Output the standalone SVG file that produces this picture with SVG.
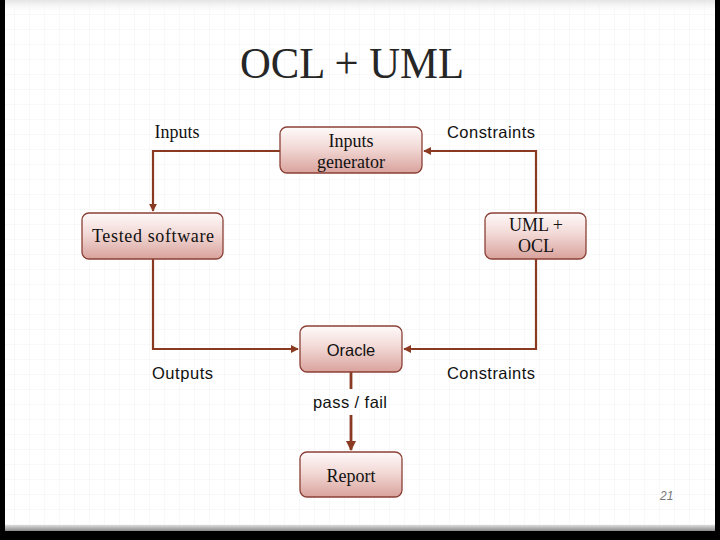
<svg xmlns="http://www.w3.org/2000/svg" width="720" height="540" viewBox="0 0 720 540">
<style>
.node rect{fill:url(#ng);stroke:#8a4036;stroke-width:1.3}
.serif{font-family:"Liberation Serif","DejaVu Serif",serif;font-size:18px;fill:#111;text-anchor:middle}
.sans{font-family:"Liberation Sans","DejaVu Sans",sans-serif;font-size:16.5px;fill:#111}
.conn path{fill:none;stroke:#8b3a22;stroke-width:2.2}
</style>
<defs>
<linearGradient id="ng" x1="0" y1="0" x2="0" y2="1">
<stop offset="0" stop-color="#fefafa"/>
<stop offset="0.45" stop-color="#f2d9d6"/>
<stop offset="1" stop-color="#d9a29c"/>
</linearGradient>
<linearGradient id="topfade" x1="0" y1="0" x2="0" y2="1">
<stop offset="0" stop-color="#e4e4e4"/>
<stop offset="1" stop-color="#ffffff" stop-opacity="0"/>
</linearGradient>
<linearGradient id="botfade" x1="0" y1="0" x2="0" y2="1">
<stop offset="0" stop-color="#dcdcdc"/>
<stop offset="1" stop-color="#8a8a8a"/>
</linearGradient>
<pattern id="grid" width="15" height="15" patternUnits="userSpaceOnUse">
<path d="M15 0V15M0 15H15" fill="none" stroke="#f1f1f1" stroke-width="1"/>
</pattern>
<marker id="ah" viewBox="0 0 10 10" refX="9" refY="5" markerWidth="3.6" markerHeight="3.6" orient="auto" markerUnits="strokeWidth">
<path d="M0 0L10 5L0 10z" fill="#8b3a22"/>
</marker>
</defs>
<rect width="720" height="540" fill="#000"/>
<rect x="5" y="0" width="710" height="526" fill="#fff"/>
<rect x="5" y="0" width="710" height="526" fill="url(#grid)"/>
<rect x="5" y="0" width="710" height="14" fill="url(#topfade)"/>
<rect x="5" y="525" width="710" height="6" fill="url(#botfade)"/>
<text x="352" y="78" font-family="'Liberation Serif','DejaVu Serif',serif" font-size="44" fill="#262626" text-anchor="middle" textLength="224" lengthAdjust="spacingAndGlyphs">OCL + UML</text>
<g class="conn">
<path d="M280 151H153V211" marker-end="url(#ah)"/>
<path d="M536 213V151H424" marker-end="url(#ah)"/>
<path d="M153 259V349H298" marker-end="url(#ah)"/>
<path d="M536 259V349H404" marker-end="url(#ah)"/>
<path d="M351 372V389" style="stroke-width:2.8"/>
<path d="M351 415V450" style="stroke-width:2.8" marker-end="url(#ah)"/>
</g>
<g id="inputs-generator" class="node"><rect x="280" y="127" width="142" height="46" rx="7"/><text class="serif" x="351" y="147">Inputs</text><text class="serif" x="351" y="168">generator</text></g>
<g id="tested-software" class="node"><rect x="82" y="213" width="141" height="46" rx="7"/><text class="serif" x="153" y="242" textLength="122">Tested software</text></g>
<g id="uml-ocl" class="node"><rect x="485" y="213" width="101" height="46" rx="7"/><text class="serif" x="536" y="231">UML +</text><text class="serif" x="536" y="252">OCL</text></g>
<g id="oracle" class="node"><rect x="300" y="326" width="102" height="46" rx="7"/><text class="sans" x="351" y="356" text-anchor="middle">Oracle</text></g>
<g id="report" class="node"><rect x="300" y="452" width="102" height="45" rx="7"/><text class="serif" x="351" y="482">Report</text></g>
<g id="labels">
<text class="serif" x="177" y="138">Inputs</text>
<text class="sans" x="447" y="138" textLength="88">Constraints</text>
<text class="sans" x="152" y="379" textLength="61">Outputs</text>
<text class="sans" x="447" y="379" textLength="88">Constraints</text>
<text class="sans" x="313" y="408" textLength="74">pass / fail</text>
</g>
<text x="660" y="500" font-family="'Liberation Sans',sans-serif" font-size="12" font-style="italic" fill="#777">21</text>
</svg>
